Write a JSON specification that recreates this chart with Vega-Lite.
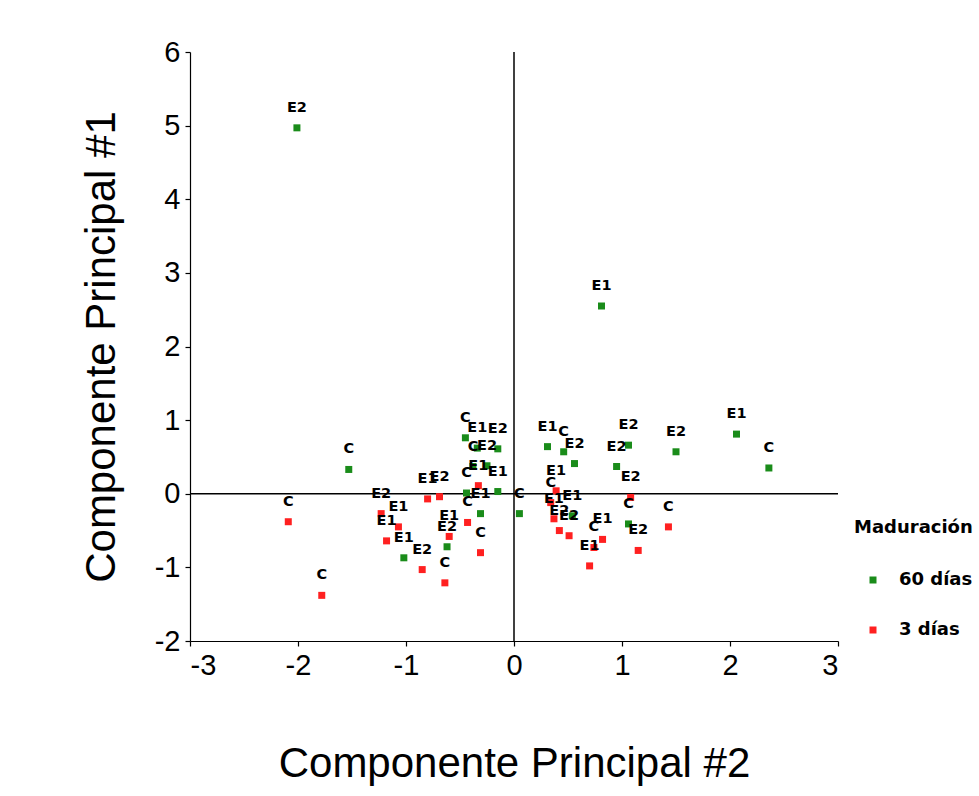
{
  "$schema": "https://vega.github.io/schema/vega-lite/v6.json",
  "width": 648,
  "height": 589,
  "autosize": {"type": "none"},
  "padding": {"left": 190, "top": 52, "right": 141, "bottom": 155},
  "background": "white",
  "config": {
    "view": {"stroke": null},
    "font": "Liberation Sans",
    "axis": {
      "grid": false,
      "domainColor": "black",
      "domainWidth": 1.2,
      "tickColor": "black",
      "tickWidth": 1.2,
      "tickSize": 5,
      "labelColor": "black",
      "labelFont": "Liberation Sans",
      "labelFontSize": 29,
      "titleFont": "Liberation Sans",
      "titleFontSize": 42,
      "titleFontWeight": "normal",
      "titleColor": "black",
      "labelExpr": "datum.value < 0 ? '-' + abs(datum.value) : '' + datum.value"
    }
  },
  "data": {
    "values": [
      {"x": -2.01, "y": 4.97, "t": "E2", "m": "60 días"},
      {"x": 0.81, "y": 2.55, "t": "E1", "m": "60 días"},
      {"x": 2.06, "y": 0.81, "t": "E1", "m": "60 días"},
      {"x": 2.36, "y": 0.35, "t": "C", "m": "60 días"},
      {"x": 1.50, "y": 0.57, "t": "E2", "m": "60 días"},
      {"x": 1.06, "y": 0.66, "t": "E2", "m": "60 días"},
      {"x": 0.95, "y": 0.37, "t": "E2", "m": "60 días"},
      {"x": 0.31, "y": 0.64, "t": "E1", "m": "60 días"},
      {"x": 0.46, "y": 0.57, "t": "C", "m": "60 días"},
      {"x": 0.56, "y": 0.41, "t": "E2", "m": "60 días"},
      {"x": -1.53, "y": 0.33, "t": "C", "m": "60 días"},
      {"x": -0.45, "y": 0.76, "t": "C", "m": "60 días"},
      {"x": -0.15, "y": 0.61, "t": "E2", "m": "60 días"},
      {"x": -0.25, "y": 0.38, "t": "E2", "m": "60 días"},
      {"x": -0.15, "y": 0.03, "t": "E1", "m": "60 días"},
      {"x": -0.44, "y": 0.01, "t": "C", "m": "60 días"},
      {"x": -0.31, "y": -0.27, "t": "E1", "m": "60 días"},
      {"x": 0.05, "y": -0.27, "t": "C", "m": "60 días"},
      {"x": -0.62, "y": -0.72, "t": "E2", "m": "60 días"},
      {"x": -1.02, "y": -0.87, "t": "E1", "m": "60 días"},
      {"x": 0.54, "y": -0.30, "t": "E1", "m": "60 días"},
      {"x": 1.06, "y": -0.41, "t": "C", "m": "60 días"},
      {"x": -0.34, "y": 0.62, "t": "E1", "m": "60 días"},
      {"x": -0.38, "y": 0.37, "t": "C", "m": "60 días"},
      {"x": -2.09, "y": -0.38, "t": "C", "m": "3 días"},
      {"x": -0.33, "y": 0.11, "t": "E1", "m": "3 días"},
      {"x": -0.80, "y": -0.07, "t": "E1", "m": "3 días"},
      {"x": -0.69, "y": -0.04, "t": "E2", "m": "3 días"},
      {"x": -1.23, "y": -0.27, "t": "E2", "m": "3 días"},
      {"x": -1.07, "y": -0.45, "t": "E1", "m": "3 días"},
      {"x": -1.18, "y": -0.64, "t": "E1", "m": "3 días"},
      {"x": -0.43, "y": -0.39, "t": "C", "m": "3 días"},
      {"x": -0.60, "y": -0.58, "t": "E1", "m": "3 días"},
      {"x": -0.31, "y": -0.80, "t": "C", "m": "3 días"},
      {"x": -0.85, "y": -1.03, "t": "E2", "m": "3 días"},
      {"x": -0.64, "y": -1.21, "t": "C", "m": "3 días"},
      {"x": -1.78, "y": -1.38, "t": "C", "m": "3 días"},
      {"x": 0.39, "y": 0.04, "t": "E1", "m": "3 días"},
      {"x": 1.08, "y": -0.05, "t": "E2", "m": "3 días"},
      {"x": 0.37, "y": -0.34, "t": "E1", "m": "3 días"},
      {"x": 0.42, "y": -0.50, "t": "E2", "m": "3 días"},
      {"x": 0.51, "y": -0.57, "t": "E2", "m": "3 días"},
      {"x": 0.82, "y": -0.62, "t": "E1", "m": "3 días"},
      {"x": 0.74, "y": -0.73, "t": "C", "m": "3 días"},
      {"x": 0.70, "y": -0.98, "t": "E1", "m": "3 días"},
      {"x": 1.15, "y": -0.77, "t": "E2", "m": "3 días"},
      {"x": 1.43, "y": -0.45, "t": "C", "m": "3 días"},
      {"x": 0.34, "y": -0.12, "t": "C", "m": "3 días"}
    ]
  },
  "encoding": {
    "x": {
      "field": "x",
      "type": "quantitative",
      "scale": {"domain": [-3, 3], "nice": false, "zero": false},
      "axis": {
        "values": [-3, -2, -1, 0, 1, 2, 3],
        "title": "Componente Principal #2",
        "labelPadding": 5,
        "titleBaseline": "alphabetic",
        "titleY": 135
      }
    },
    "y": {
      "field": "y",
      "type": "quantitative",
      "scale": {"domain": [-2, 6], "nice": false, "zero": false},
      "axis": {
        "values": [-2, -1, 0, 1, 2, 3, 4, 5, 6],
        "title": "Componente Principal #1",
        "labelPadding": 5,
        "titleBaseline": "alphabetic",
        "titleX": -76
      }
    }
  },
  "layer": [
    {
      "data": {"values": [{"v": 0}]},
      "mark": {"type": "rule", "color": "black", "strokeWidth": 1.5},
      "encoding": {"x": {"field": "v", "type": "quantitative"}, "y": null}
    },
    {
      "data": {"values": [{"v": 0}]},
      "mark": {"type": "rule", "color": "black", "strokeWidth": 1.5},
      "encoding": {"y": {"field": "v", "type": "quantitative"}, "x": null}
    },
    {
      "mark": {"type": "point", "shape": "square", "filled": true, "size": 49, "opacity": 1},
      "encoding": {
        "color": {
          "field": "m",
          "type": "nominal",
          "scale": {"domain": ["60 días", "3 días"], "range": ["#1A8C1A", "#FF2020"]},
          "legend": {
            "title": "Maduración",
            "orient": "none",
            "legendX": 664,
            "legendY": 467,
            "padding": 0,
            "titleFont": "DejaVu Sans",
            "titleFontSize": 18,
            "titleFontWeight": "bold",
            "titleColor": "black",
            "titlePadding": 34,
            "labelFont": "DejaVu Sans",
            "labelFontSize": 18,
            "labelFontWeight": "bold",
            "labelColor": "black",
            "labelOffset": 17,
            "rowPadding": 32,
            "symbolOffset": 10,
            "symbolSize": 49,
            "symbolType": "square"
          }
        }
      }
    },
    {
      "mark": {"type": "text", "font": "DejaVu Sans", "fontSize": 14.5, "fontWeight": "bold", "color": "black", "baseline": "middle", "align": "center", "dy": -20},
      "encoding": {"text": {"field": "t", "type": "nominal"}}
    }
  ]
}
